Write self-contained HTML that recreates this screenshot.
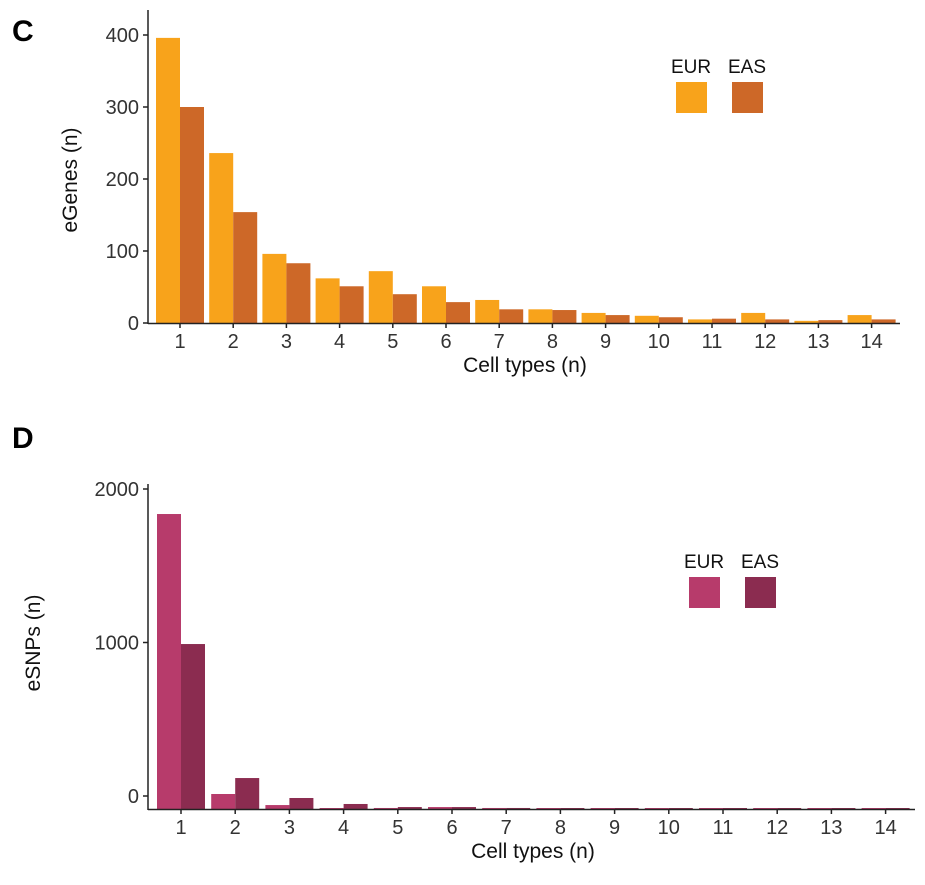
<!DOCTYPE html>
<html><head><meta charset="utf-8"><style>
body{margin:0;background:#fff;font-family:"Liberation Sans",sans-serif}
svg text{font-family:"Liberation Sans",sans-serif}
</style></head><body>
<svg id="chart" width="925" height="880" xmlns="http://www.w3.org/2000/svg">
<text x="12" y="41" font-size="30" font-weight="bold">C</text>
<text x="12" y="448" font-size="30" font-weight="bold">D</text>
<g id="pc"></g>
<g id="pd"></g>
</svg>
<script>
const categories=[1,2,3,4,5,6,7,8,9,10,11,12,13,14];
const egenesEUR=[396,236,96,62,72,51,32,19,14,10,5,14,3,11];
const egenesEAS=[300,154,83,51,40,29,19,18,11,8,6,5,4,5];
const egenesTicks=[0,100,200,300,400];
const esnpsEUR=[1837,13,-59,-84,-78,-72,-78,-83,-83,-83,-83,-83,-83,-83];
const esnpsEAS=[990,117,-13,-52,-72,-72,-78,-83,-83,-83,-83,-83,-83,-83];
const esnpsTicks=[0,1000,2000];
const seriesNames=["EUR","EAS"];
const NS="http://www.w3.org/2000/svg";
function mk(p,t,a){const e=document.createElementNS(NS,t);for(const k in a)e.setAttribute(k,a[k]);p.appendChild(e);return e;}
function panel(g,cfg){
  const y=v=>cfg.y0-v*cfg.k;
  const x=i=>cfg.x0+i*cfg.pitch;
  // bars
  cfg.series.forEach((s,si)=>{
    s.forEach((v,i)=>{
      const top=Math.min(y(v),cfg.base-1);
      const r=mk(g,'rect',{x:x(i)+si*cfg.bw,y:top,width:cfg.bw,height:cfg.base-top,fill:cfg.colors[si]});
      
      
    });
  });
  // axes
  const ya=mk(g,'line',{x1:cfg.ax,y1:cfg.top,x2:cfg.ax,y2:cfg.base+1,stroke:'#222','stroke-width':1.5});
  
  const xa=mk(g,'line',{x1:cfg.ax,y1:cfg.base+0.5,x2:cfg.xend,y2:cfg.base+0.5,stroke:'#222','stroke-width':1.5});
  
  cfg.ticks.forEach(t=>{
    mk(g,'line',{x1:cfg.ax-5,y1:y(t),x2:cfg.ax,y2:y(t),stroke:'#222','stroke-width':1.5});
    const tx=mk(g,'text',{x:cfg.ax-9,y:y(t)+7,'text-anchor':'end','font-size':20,fill:'#333'});
    tx.textContent=t;
    
  });
  categories.forEach((c,i)=>{
    const cx=x(i)+cfg.bw;
    mk(g,'line',{x1:cx,y1:cfg.base,x2:cx,y2:cfg.base+5,stroke:'#222','stroke-width':1.5});
    const tx=mk(g,'text',{x:cx,y:cfg.base+25,'text-anchor':'middle','font-size':20,fill:'#333'});
    tx.textContent=c;
    
  });
  const xt=mk(g,'text',{x:cfg.xtx,y:cfg.base+49,'text-anchor':'middle','font-size':21,fill:'#111'});
  xt.textContent='Cell types (n)';
  
  const yt=mk(g,'text',{x:0,y:0,'text-anchor':'middle','font-size':21,fill:'#111',transform:`translate(${cfg.ytx},${cfg.yty}) rotate(-90)`});
  yt.textContent=cfg.ytitle;
  
  seriesNames.forEach((n,si)=>{
    const lx=cfg.lx+si*56;
    const lt=mk(g,'text',{x:lx+15,y:cfg.ly-9,'text-anchor':'middle','font-size':19,fill:'#111'});
    lt.textContent=n;
    
    const ls=mk(g,'rect',{x:lx,y:cfg.ly,width:31,height:31,fill:cfg.colors[si]});
    
  });
}
panel(document.getElementById('pc'),{series:[egenesEUR,egenesEAS],ticks:egenesTicks,colors:['#F8A31B','#CD6828'],
  y0:323,k:0.72,base:323,x0:156,pitch:53.2,bw:24,ax:148,top:10,xend:900,xtx:525,ytx:77,yty:180,ytitle:'eGenes (n)',lx:676,ly:82});
panel(document.getElementById('pd'),{series:[esnpsEUR,esnpsEAS],ticks:esnpsTicks,colors:['#B73B6B','#8B2C50'],
  y0:796,k:0.1535,base:809,x0:157,pitch:54.2,bw:24,ax:148,top:484,xend:915,xtx:533,ytx:40,yty:643,ytitle:'eSNPs (n)',lx:689,ly:577});
</script>
</body></html>
